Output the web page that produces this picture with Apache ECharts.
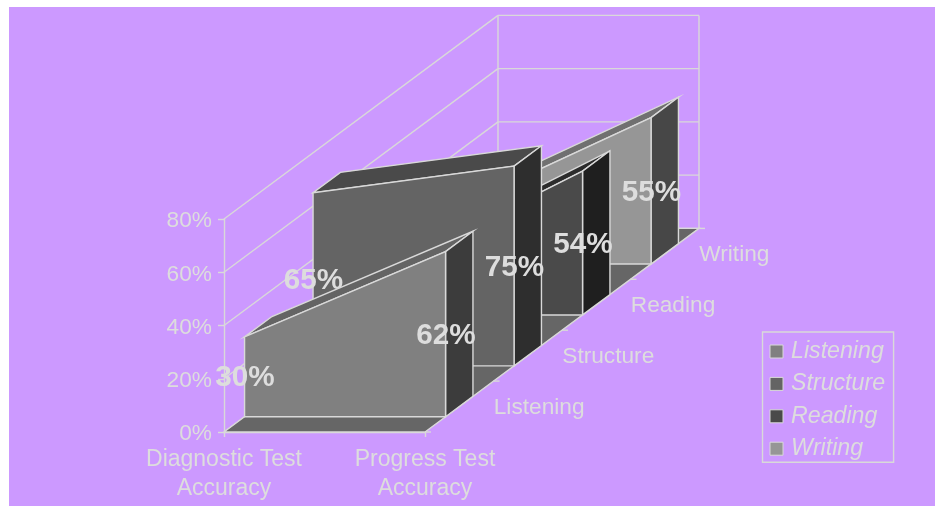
<!DOCTYPE html>
<html>
<head>
<meta charset="utf-8">
<script src="https://cdn.jsdelivr.net/npm/echarts@6/dist/echarts.min.js"></script>
<style>
html,body{margin:0;padding:0;background:#fff;width:935px;height:506px;overflow:hidden}
#panel{position:absolute;left:9px;top:7px;width:926px;height:499px;background:#CC99FF}
#chart{position:absolute;left:0;top:0;width:935px;height:506px}
</style>
</head>
<body>
<div id="panel"></div>
<div id="chart"></div>
<script>
var categories = ['Diagnostic Test\nAccuracy', 'Progress Test\nAccuracy'];
var seriesNames = ['Listening', 'Structure', 'Reading', 'Writing'];
var listening = [30, 62];
var structure = [65, 75];
var reading = [16, 54];
var writing = [20, 55];
var yTicks = [0, 20, 40, 60, 80];

var valuesBySeries = [listening, structure, reading, writing];
var faceColors = [
  {front:'#808080', top:'#646464', side:'#3c3c3c'},
  {front:'#646464', top:'#4a4a4a', side:'#2e2e2e'},
  {front:'#4a4a4a', top:'#2c2c2c', side:'#1f1f1f'},
  {front:'#969696', top:'#707070', side:'#474747'}
];
var LINE = '#d9d9d9', TEXT = '#dddddd', FLOOR = '#666666', LW = 1.4;
var FONT = '"Liberation Sans", Arial, sans-serif';
// oblique projection: screen shift for one band of depth
var DX = 68.5, DY = 50.9, BANDS = seriesNames.length, FRONT = 0.3, BACK = 0.7;

function project(api, c, v, d) {
  var p = api.coord([c, v]);
  return [p[0] + d * DX, p[1] - d * DY];
}
function face(points, fill) {
  return {type:'polygon', shape:{points:points}, style:{fill:fill, stroke:LINE, lineWidth:LW}};
}
function seg(a, b) {
  return {type:'line', shape:{x1:a[0], y1:a[1], x2:b[0], y2:b[1]}, style:{stroke:LINE, lineWidth:LW, fill:null}};
}

function renderWall(params, api) {
  var v = yTicks[params.dataIndex], last = yTicks.length - 1;
  var front = project(api, 0, v, 0), back = project(api, 0, v, BANDS), backR = project(api, 1, v, BANDS);
  var kids = [seg(front, back), seg(back, backR)];
  if (params.dataIndex === 0) {
    kids.push(seg(project(api, 0, 0, BANDS), project(api, 0, yTicks[last], BANDS)));
    kids.push(seg(project(api, 1, 0, BANDS), project(api, 1, yTicks[last], BANDS)));
  }
  return {type:'group', children:kids};
}

function renderFloor(params, api) {
  var kids = [face([project(api,0,0,0), project(api,1,0,0), project(api,1,0,BANDS), project(api,0,0,BANDS)], FLOOR)];
  for (var d = 0; d <= BANDS; d++) {
    var p = project(api, 1, 0, d);
    kids.push(seg(p, [p[0] + 6, p[1]]));
  }
  return {type:'group', children:kids};
}

function renderBand(i) {
  return function (params, api) {
    if (params.dataIndex !== 1) return null;
    var vals = valuesBySeries[i], c = faceColors[i], d0 = i + FRONT, d1 = i + BACK;
    var fb0 = project(api,0,0,d0), fb1 = project(api,1,0,d0);
    var ft0 = project(api,0,vals[0],d0), ft1 = project(api,1,vals[1],d0);
    var bt0 = project(api,0,vals[0],d1), bt1 = project(api,1,vals[1],d1);
    var bb1 = project(api,1,0,d1);
    var kids = [
      face([ft0, ft1, bt1, bt0], c.top),
      face([ft1, fb1, bb1, bt1], c.side),
      face([fb0, fb1, ft1, ft0], c.front)
    ];
    [[fb0, ft0, vals[0]], [fb1, ft1, vals[1]]].forEach(function (t) {
      kids.push({type:'text', x:t[0][0] + 0.5, y:(t[0][1] + t[1][1]) / 2 + 1.5,
        style:{text:t[2] + '%', fill:TEXT, font:'bold 29.7px ' + FONT, align:'center', verticalAlign:'middle'}});
    });
    return {type:'group', children:kids};
  };
}

function renderDepthLabel(params, api) {
  var p = project(api, 1, 0, params.dataIndex + 0.5);
  return {type:'text', x:p[0] + 34.5, y:p[1] + 1,
    style:{text:seriesNames[params.dataIndex], fill:TEXT, font:'22.7px ' + FONT, align:'left', verticalAlign:'middle'}};
}

var series = [
  {type:'custom', name:'walls', coordinateSystem:'cartesian2d', renderItem:renderWall, clip:false, silent:true, z:2,
   data:yTicks.map(function (v) { return [0, v]; })},
  {type:'custom', name:'floor', coordinateSystem:'cartesian2d', renderItem:renderFloor, clip:false, silent:true, z:3,
   data:[[0, 0]]}
];
seriesNames.slice().reverse().forEach(function (name, r) {
  var i = BANDS - 1 - r;
  series.push({type:'custom', name:name, coordinateSystem:'cartesian2d', renderItem:renderBand(i), clip:false, silent:true,
    z:4, itemStyle:{color:faceColors[i].front},
    data:valuesBySeries[i].map(function (v, c) { return [c, v]; })});
});
series.push({type:'custom', name:'depth labels', coordinateSystem:'cartesian2d', renderItem:renderDepthLabel, clip:false, silent:true, z:5,
  data:seriesNames.map(function () { return [0, 0]; })});

var chart = echarts.init(document.getElementById('chart'), null, {renderer:'canvas'});
chart.setOption({
  animation:false,
  backgroundColor:'transparent',
  grid:{left:224, right:510, top:219, bottom:74, containLabel:false},
  legend:{
    data:seriesNames, orient:'vertical', left:762.5, top:332, icon:'rect',
    itemWidth:13, itemHeight:13, itemGap:6.4, padding:[6.5, 8.5, 0.5, 7],
    backgroundColor:'transparent', borderColor:LINE, borderWidth:LW, selectedMode:false,
    itemStyle:{borderColor:LINE, borderWidth:1},
    textStyle:{color:TEXT, fontFamily:FONT, fontStyle:'italic', fontSize:23.2, lineHeight:26, padding:[0,0,0,3]}
  },
  xAxis:{type:'category', data:categories, boundaryGap:false,
    axisLine:{lineStyle:{color:LINE, width:LW}},
    axisTick:{show:true, length:5, alignWithLabel:true, lineStyle:{color:LINE, width:LW}},
    axisLabel:{color:TEXT, fontFamily:FONT, fontSize:23, lineHeight:28.5, margin:13.5, interval:0, hideOverlap:false}},
  yAxis:{type:'value', min:0, max:80, interval:20,
    axisLine:{show:true, lineStyle:{color:LINE, width:LW}},
    axisTick:{show:true, length:6, lineStyle:{color:LINE, width:LW}},
    splitLine:{show:false},
    axisLabel:{color:TEXT, fontFamily:FONT, fontSize:22.7, margin:12, verticalAlign:'top', lineHeight:4, formatter:'{value}%'}},
  series:series
});
</script>
</body>
</html>
